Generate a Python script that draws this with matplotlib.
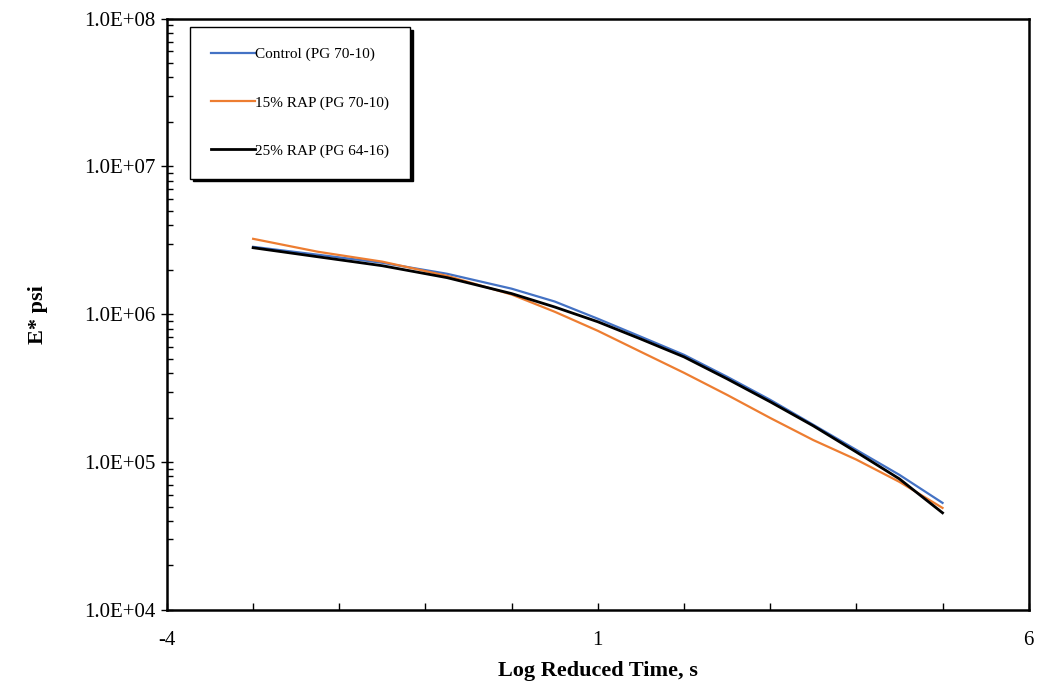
import matplotlib
matplotlib.use("Agg")
import matplotlib.pyplot as plt
from matplotlib.ticker import FixedLocator, FuncFormatter, LogLocator, NullFormatter

plt.rcParams["font.family"] = ["Liberation Serif", "DejaVu Serif"]
plt.rcParams["axes.unicode_minus"] = False

# log reduced time (s) at which the master curves were read
log_time = [-3.0, -2.25, -1.5, -0.75, 0.0, 0.5, 1.0, 1.5, 2.0, 2.5, 3.0, 3.5, 4.0, 4.5, 5.0]

# dynamic modulus |E*| in psi
control_pg7010 = [2.86e6, 2.53e6, 2.23e6, 1.88e6, 1.49e6, 1.22e6, 9.33e5, 7.05e5,
                  5.32e5, 3.78e5, 2.64e5, 1.79e5, 1.21e5, 8.2e4, 5.3e4]
rap15_pg7010 = [3.24e6, 2.65e6, 2.27e6, 1.82e6, 1.36e6, 1.04e6, 7.73e5, 5.57e5,
                4.02e5, 2.85e5, 1.99e5, 1.41e5, 1.04e5, 7.35e4, 4.9e4]
rap25_pg6416 = [2.82e6, 2.45e6, 2.13e6, 1.77e6, 1.38e6, 1.12e6, 8.9e5, 6.8e5,
                5.15e5, 3.66e5, 2.56e5, 1.76e5, 1.17e5, 7.7e4, 4.54e4]

x_ticks = [-4, 1, 6]

fig = plt.figure(figsize=(10.37, 6.90), dpi=100)
ax = fig.add_axes([0.161, 0.116, 0.831, 0.857])

ax.plot(log_time, control_pg7010, color="#4472C4", lw=1.6, label="Control (PG 70-10)")
ax.plot(log_time, rap15_pg7010, color="#ED7D31", lw=1.6, label="15% RAP (PG 70-10)")
ax.plot(log_time, rap25_pg6416, color="black", lw=2.0, label="25% RAP (PG 64-16)")

ax.set_yscale("log")
ax.set_xlim(-4, 6)
ax.set_ylim(1e4, 1e8)

ax.xaxis.set_major_locator(FixedLocator(x_ticks))
ax.xaxis.set_minor_locator(FixedLocator(range(-4, 7)))
ax.yaxis.set_major_locator(LogLocator(base=10, numticks=10))
ax.yaxis.set_minor_locator(LogLocator(base=10, subs=range(2, 10), numticks=20))
ax.yaxis.set_major_formatter(FuncFormatter(lambda v, p: f"{v:.1E}"))
ax.yaxis.set_minor_formatter(NullFormatter())

ax.tick_params(axis="x", which="both", direction="in", length=5, width=1,
               labelsize=15, pad=15)
ax.tick_params(axis="y", which="major", direction="inout", length=9, width=1,
               labelsize=15, pad=4)
ax.tick_params(axis="y", which="minor", direction="in", length=4, width=1)

for s in ax.spines.values():
    s.set_linewidth(1.8)

ax.set_xlabel("Log Reduced Time, s", fontsize=16, fontweight="bold", labelpad=8)
ax.set_ylabel("E* psi", fontsize=16, fontweight="bold", labelpad=26)

leg = ax.legend(loc="upper left", bbox_to_anchor=(0.027, 0.986), fontsize=11,
                frameon=True, fancybox=False,
                shadow={"color": "black", "alpha": 1},
                edgecolor="black", framealpha=1, labelspacing=2.25,
                handlelength=2.9, handletextpad=0.0, borderpad=1.35,
                borderaxespad=0)
leg.get_frame().set_linewidth(1.0)

fig.savefig("out.png", dpi=100)
